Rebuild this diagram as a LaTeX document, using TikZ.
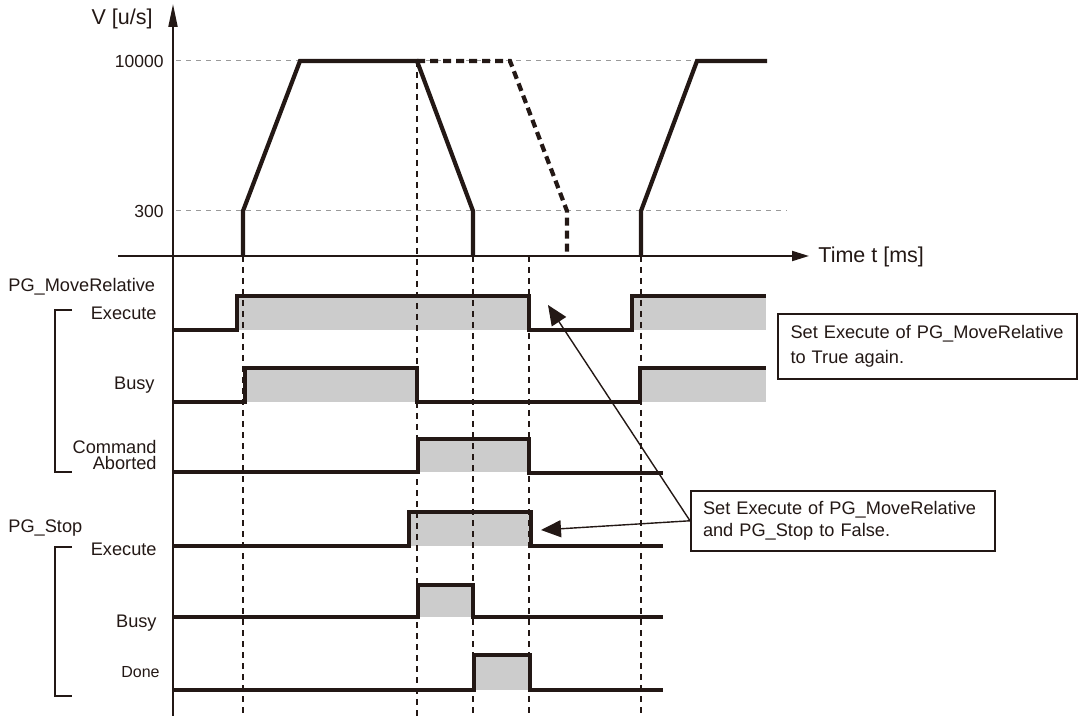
\documentclass[tikz,border=0pt]{standalone}
\usepackage{fontspec}
\setmainfont{Liberation Sans}
\usepackage{tikz}
\usetikzlibrary{arrows.meta}
\usepackage{xcolor}
\definecolor{ChartInk}{HTML}{231815}
\definecolor{ChartFill}{HTML}{CCCCCC}
\definecolor{ChartGrid}{HTML}{9A9A9A}
\tikzset{
  axisline/.style={line width=1pt,draw=ChartInk},
  gridline/.style={line width=0.5pt,draw=ChartGrid,dash pattern=on 2.5pt off 2.5pt},
  guideline/.style={line width=0.6pt,draw=ChartInk,dash pattern=on 3pt off 2.5pt},
  signal/.style={line width=2.1pt,draw=ChartInk,line join=miter},
  stopdash/.style={signal,dash pattern=on 4pt off 2.5pt},
  highband/.style={fill=ChartFill},
  axislabel/.style={font=\fontsize{10.75}{12}\selectfont,text=ChartInk,inner sep=0pt},
  ticklabel/.style={font=\fontsize{8.75}{10}\selectfont,text=ChartInk,inner sep=0pt,anchor=east},
  siglabel/.style={font=\fontsize{9.1}{8}\selectfont,text=ChartInk,inner sep=0pt,anchor=base east},
  fblabel/.style={font=\fontsize{9.1}{10}\selectfont,text=ChartInk,inner sep=0pt,anchor=base west},
  groupbracket/.style={line width=0.8pt,draw=ChartInk},
  callout/.style={draw=ChartInk,line width=1pt,fill=white,align=left,anchor=north west,text=ChartInk},
  callarrow/.style={-{Triangle[length=10pt,width=8.5pt]},line width=0.7pt,draw=ChartInk}
}

\begin{document}
\begin{tikzpicture}[x=0.5pt,y=-0.5pt]
  \useasboundingbox (0,0) rectangle (1081,716);
  \draw[gridline] (176,61) -- (697,61);
  \draw[gridline] (176,211) -- (787,211);
  \node[ticklabel] (v10000) at (164,61) {10000};
  \node[ticklabel] (v300) at (164,211) {300};
  \foreach \xa/\xb/\yh/\yl in {237/529/296/330,632/766/296/330,245/417/368/402,640/766/368/402,418/529/439/472,409/531/512/546,418/473/585/617,474/530/655/690}
    \fill[highband] (\xa,\yh) rectangle (\xb,\yl);
  \draw[guideline] (417,61) -- (417,716);
  \foreach \x in {243,473,529,641}
    \draw[guideline] (\x,256) -- (\x,716);
  \draw[axisline,-{Triangle[length=11.5pt,width=4.5pt]}] (173,716) -- (173,4);
  \draw[axisline,-{Triangle[length=8.5pt,width=5pt]}] (118,256) -- (809,256);
  \node[axislabel,anchor=base east] (vlab) at (153,25) {V [u/s]};
  \node[axislabel,anchor=base west] (tlab) at (818,263) {Time t [ms]};
  \draw[signal] (243,256) -- (243,211) -- (300,61) -- (417,61) -- (473,211) -- (473,256);
  \draw[stopdash] (417,61) -- (510,61) -- (567,211) -- (567,256);
  \draw[signal] (641,256) -- (641,211) -- (697,61) -- (767,61);
  \draw[signal] (173,330) -- (237,330) -- (237,296) -- (529,296) -- (529,330) -- (632,330) -- (632,296) -- (766,296);
  \draw[signal] (173,402) -- (245,402) -- (245,368) -- (417,368) -- (417,402) -- (640,402) -- (640,368) -- (766,368);
  \draw[signal] (173,472) -- (418,472) -- (418,439) -- (529,439) -- (529,473) -- (663,473);
  \draw[signal] (173,546) -- (409,546) -- (409,512) -- (531,512) -- (531,546) -- (663,546);
  \draw[signal] (173,617) -- (418,617) -- (418,585) -- (473,585) -- (473,617) -- (663,617);
  \draw[signal] (173,690) -- (474,690) -- (474,655) -- (530,655) -- (530,690) -- (663,690);
  \node[fblabel] (mrname) at (8,292) {PG\_MoveRelative};
  \node[siglabel] (mrexec) at (157,319.5) {Execute};
  \node[siglabel] (mrbusy) at (155,390) {Busy};
  \node[siglabel,anchor=north east,align=right] (mrabort) at (157,440) {Command\\Aborted};
  \node[fblabel] (stname) at (8,532) {PG\_Stop};
  \node[siglabel] (stexec) at (157,555) {Execute};
  \node[siglabel] (stbusy) at (157,627) {Busy};
  \node[siglabel,font=\fontsize{8}{8}\selectfont] (stdone) at (160,677) {Done};
  \draw[groupbracket] (72,310) -- (55,310) -- (55,472) -- (72,472);
  \draw[groupbracket] (72,547) -- (55,547) -- (55,696) -- (72,696);
  \node[callout,text width=137pt,inner xsep=6.25pt,inner ysep=5.75pt,font=\fontsize{9.1}{12.5}\selectfont] (againbox) at (777,313) {Set Execute of PG\_MoveRelative\\to True again.};
  \node[callout,text width=140pt,inner xsep=6pt,inner ysep=5.25pt,font=\fontsize{9.1}{10.8}\selectfont] (falsebox) at (690,490) {Set Execute of PG\_MoveRelative\\and PG\_Stop to False.};
  \coordinate (retrig) at (548,305);
  \coordinate (falltip) at (541,530);
  \draw[callarrow] (falsebox.west) -- (retrig);
  \draw[callarrow] (falsebox.west) -- (falltip);
\end{tikzpicture}
\end{document}
